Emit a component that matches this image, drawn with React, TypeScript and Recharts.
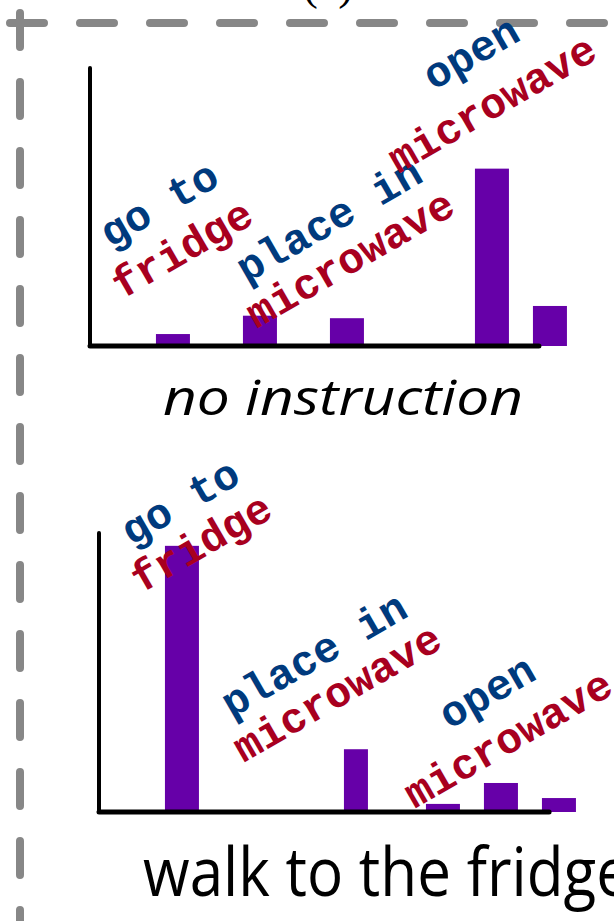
import React from "react";
import { BarChart, Bar, XAxis, YAxis, ReferenceLine } from "recharts";

// ---- data ----
const TOP_SLOTS = [3, 6, 9, 14, 16];
const TOP_VALUES = [0.043, 0.109, 0.1, 0.638, 0.144];
const BOTTOM_SLOTS = [3, 9, 12, 14, 16];
const BOTTOM_VALUES = [0.954, 0.225, 0.029, 0.104, 0.05];

const TOP_TITLE = "no instruction";
const BOTTOM_TITLE = "walk to the fridge";
const PANEL_TAG = "(c)";

const TOP_LABELS = [
  ["go to", "fridge"],
  ["place in", "microwave"],
  ["open", "microwave"],
];
const BOTTOM_LABELS = [
  ["go to", "fridge"],
  ["place in", "microwave"],
  ["open", "microwave"],
];

// ---- styles / layout ----
const BAR_COLOR = "#6600a8";
const BLUE = "#003a7d";
const RED = "#a8001f";
const DASH = "#878787";
const X_DOMAIN: [number, number] = [0.14, 16.64];
const PLOT_W = 478.5;
const BOTTOM_BAR_WIDTHS = [34, 24, 34, 34, 34];

// baseline-middle anchors for each label line [line1, line2]
const TOP_LABEL_POS = [
  [[166, 216], [189, 261]],
  [[336, 232], [357, 271]],
  [[478, 65], [499, 116]],
];
const BOTTOM_LABEL_POS = [
  [[187, 514], [208, 555]],
  [[321, 667], [344, 705]],
  [[494, 704], [515, 751]],
];

const topData = TOP_SLOTS.map((s, i) => ({ slot: s, p: TOP_VALUES[i] }));
const bottomData = BOTTOM_SLOTS.map((s, i) => ({ slot: s, p: BOTTOM_VALUES[i] }));

function Labels({ labels, pos }: { labels: string[][]; pos: number[][][] }) {
  return (
    <>
      {labels.map((pair, i) =>
        pair.map((t, j) => {
          const [x, y] = pos[i][j];
          return (
            <text
              key={i + "-" + j}
              x={x}
              y={y}
              textAnchor="middle"
              transform={`rotate(-30 ${x} ${y})`}
              fontFamily="'Liberation Mono', 'Courier New', monospace"
              fontWeight="bold"
              fontSize={43}
              fill={j === 0 ? BLUE : RED}
            >
              {t}
            </text>
          );
        })
      )}
    </>
  );
}

function Panel({
  data,
  left,
  top,
  bottom,
  axisEnd,
  widths,
}: {
  data: { slot: number; p: number }[];
  left: number;
  top: number;
  bottom: number;
  axisEnd: number;
  widths?: number[];
}) {
  const W = 614;
  const H = bottom + 20;
  return (
    <div style={{ position: "absolute", left: 0, top: 0 }}>
      <BarChart
        width={W}
        height={H}
        data={data}
        margin={{ top, left, right: W - left - PLOT_W, bottom: H - bottom }}
      >
        <XAxis type="number" dataKey="slot" domain={X_DOMAIN} hide />
        <YAxis type="number" domain={[0, 1]} hide />
        <Bar
          dataKey="p"
          fill={BAR_COLOR}
          barSize={34}
          isAnimationActive={false}
          shape={(props: any) => {
            const w = widths && widths[props.index] != null ? widths[props.index] : props.width;
            return (
              <rect
                x={props.x + (props.width - w) / 2}
                y={props.y}
                width={w}
                height={props.height}
                fill={BAR_COLOR}
              />
            );
          }}
        />
        <ReferenceLine
          segment={[
            { x: X_DOMAIN[0], y: 0 },
            { x: X_DOMAIN[0], y: 1 },
          ]}
          stroke="#000"
          strokeWidth={4}
          strokeLinecap="round"
          ifOverflow="visible"
        />
        <ReferenceLine
          segment={[
            { x: X_DOMAIN[0], y: 0 },
            { x: axisEnd, y: 0 },
          ]}
          stroke="#000"
          strokeWidth={5}
          strokeLinecap="round"
          ifOverflow="visible"
        />
      </BarChart>
    </div>
  );
}

export default function App() {
  return (
    <div
      style={{
        position: "absolute",
        left: 0,
        top: 0,
        width: 614,
        height: 921,
        overflow: "hidden",
        background: "#fff",
      }}
    >
      <Panel data={topData} left={90} top={68} bottom={346} axisEnd={15.62} />
      <Panel
        data={bottomData}
        left={99}
        top={533}
        bottom={812}
        axisEnd={15.66}
        widths={BOTTOM_BAR_WIDTHS}
      />
      <svg
        width={614}
        height={921}
        style={{ position: "absolute", left: 0, top: 0, pointerEvents: "none" }}
      >
        <line
          x1={10}
          y1={23}
          x2={640}
          y2={23}
          stroke={DASH}
          strokeWidth={8}
          strokeDasharray="34 36"
          strokeLinecap="round"
        />
        <line
          x1={20}
          y1={13}
          x2={20}
          y2={960}
          stroke={DASH}
          strokeWidth={8}
          strokeDasharray="34 35"
          strokeLinecap="round"
        />
        <text
          x={328}
          y={-1}
          textAnchor="middle"
          fontFamily="'Liberation Serif', serif"
          fontSize={46}
          fill="#000"
        >
          {PANEL_TAG}
        </text>
        <Labels labels={TOP_LABELS} pos={TOP_LABEL_POS} />
        <Labels labels={BOTTOM_LABELS} pos={BOTTOM_LABEL_POS} />
        <text
          x={163}
          y={415}
          fontFamily="'Open Sans', sans-serif"
          fontStyle="italic"
          fontSize={50}
          textLength={360}
          lengthAdjust="spacingAndGlyphs"
          fill="#000"
        >
          {TOP_TITLE}
        </text>
        <text
          x={143}
          y={896}
          fontFamily="'Open Sans', sans-serif"
          fontSize={68}
          textLength={487}
          lengthAdjust="spacingAndGlyphs"
          fill="#000"
        >
          {BOTTOM_TITLE}
        </text>
      </svg>
    </div>
  );
}
